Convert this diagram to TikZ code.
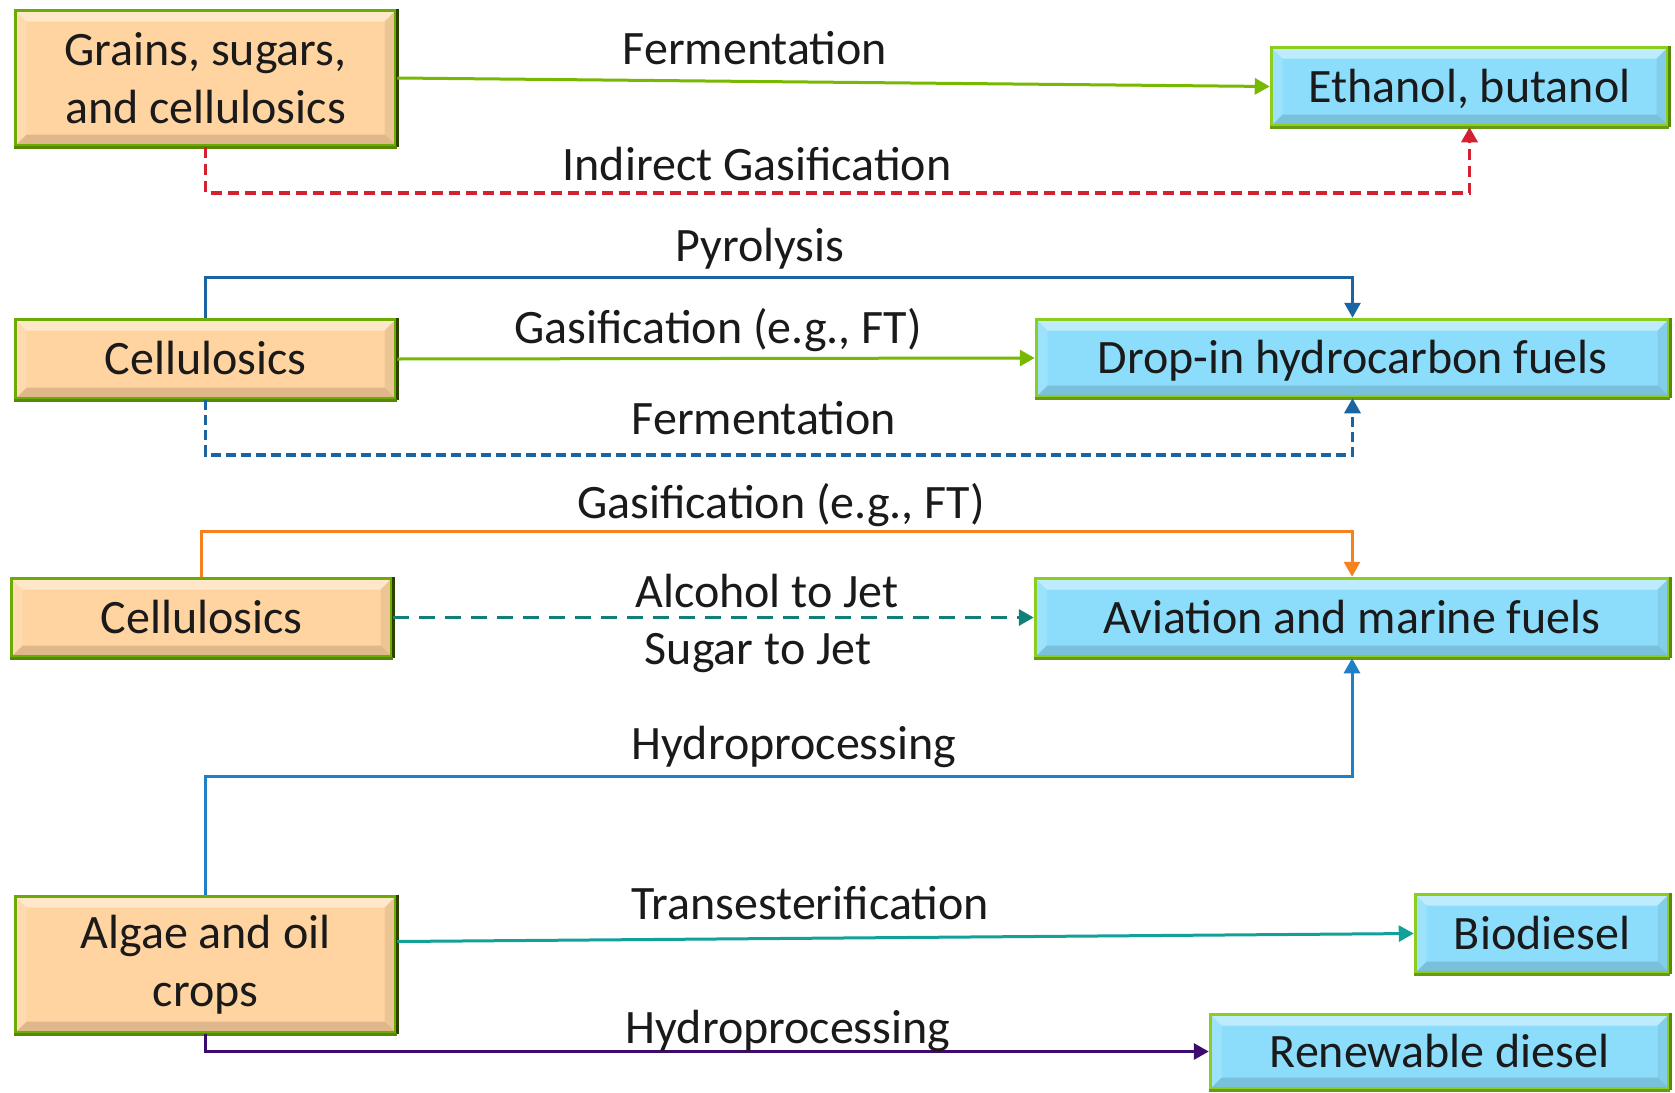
\documentclass[tikz,border=0pt]{standalone}
\usepackage{fontspec}
\setmainfont{Carlito}
\usetikzlibrary{arrows.meta,calc}
\definecolor{peach}{HTML}{FFD4A0}
\definecolor{sky}{HTML}{8CDDFC}
\definecolor{gborder}{HTML}{6CAA04}
\definecolor{gdark}{HTML}{2C4000}
\definecolor{gbright}{HTML}{8CCD1E}
\definecolor{gbdark}{HTML}{578A08}
\definecolor{txt}{HTML}{1A1A1A}
\definecolor{cgreen}{HTML}{77B800}
\definecolor{cred}{HTML}{D42131}
\definecolor{cblue}{HTML}{1B64A2}
\definecolor{corange}{HTML}{F5821F}
\definecolor{cteal}{HTML}{12807A}
\definecolor{chydro}{HTML}{1F80C6}
\definecolor{ctrans}{HTML}{12A198}
\definecolor{cpurple}{HTML}{3D0B6E}
\newcommand{\bigf}{\fontsize{48}{58}\selectfont}
\def\bv{11pt}
\tikzset{
  bevel/.style={path picture={
    \fill[white,opacity=.45] (path picture bounding box.north west) -- (path picture bounding box.north east)
      -- ([xshift=-\bv,yshift=-\bv]path picture bounding box.north east) -- ([xshift=\bv,yshift=-\bv]path picture bounding box.north west) -- cycle;
    \fill[black,opacity=.13] (path picture bounding box.south west) -- (path picture bounding box.south east)
      -- ([xshift=-\bv,yshift=\bv]path picture bounding box.south east) -- ([xshift=\bv,yshift=\bv]path picture bounding box.south west) -- cycle;
    \fill[black,opacity=.07] (path picture bounding box.north east) -- (path picture bounding box.south east)
      -- ([xshift=-\bv,yshift=\bv]path picture bounding box.south east) -- ([xshift=-\bv,yshift=-\bv]path picture bounding box.north east) -- cycle;
    \fill[white,opacity=.15] (path picture bounding box.north west) -- (path picture bounding box.south west)
      -- ([xshift=\bv,yshift=\bv]path picture bounding box.south west) -- ([xshift=\bv,yshift=-\bv]path picture bounding box.north west) -- cycle;
  }},
  srcbox/.style={rectangle, fill=peach, draw=gborder, line width=3.5pt, bevel, text=txt, font=\bigf, align=center, inner sep=0pt},
  tgtbox/.style={rectangle, fill=sky, draw=gbright, line width=3.5pt, bevel, text=txt, font=\bigf, align=center, inner sep=0pt},
  oneline/.style={text height=31pt, text depth=0pt},
  lab/.style={font=\bigf, text=txt, inner sep=0pt, anchor=base},
  conn/.style={line width=3pt, -{Triangle[length=15pt,width=16pt]}},
}
\begin{document}
\begin{tikzpicture}[x=1pt,y=-1pt]
\useasboundingbox (0,0) rectangle (1675,1092);
\fill[white] (0,0) rectangle (1675,1092);

% source boxes
\node[srcbox, minimum width=380pt, minimum height=135pt] (g) at (205.5,78) {Grains, sugars,\\and cellulosics};
\node[srcbox, oneline, minimum width=380pt, minimum height=79pt] (c1) at (205.5,359) {Cellulosics};
\node[srcbox, oneline, minimum width=380pt, minimum height=78pt] (c2) at (201.5,617.5) {Cellulosics};
\node[srcbox, minimum width=380pt, minimum height=136pt] (al) at (205.5,964.5) {Algae and oil\\crops};

% target boxes
\node[tgtbox, oneline, minimum width=396pt, minimum height=78pt] (eth) at (1469.5,86.5) {Ethanol, butanol};
\node[tgtbox, oneline, minimum width=632pt, minimum height=77pt] (drop) at (1352.5,358) {Drop-in hydrocarbon fuels};
\node[tgtbox, oneline, minimum width=633pt, minimum height=78pt] (av) at (1352,617.5) {Aviation and marine fuels};
\node[tgtbox, oneline, minimum width=253pt, minimum height=78pt] (bio) at (1542,933.5) {Biodiesel};
\node[tgtbox, oneline, minimum width=458pt, minimum height=74pt] (ren) at (1439.5,1051.5) {Renewable diesel};

% darker right / bottom edges
\foreach \n in {g,c1,c2,al} {
  \draw[gdark, line width=3.5pt] (\n.north east) -- (\n.south east);
  \draw[gborder!80!black, line width=3.5pt] (\n.south west) -- (\n.south east);
}
\foreach \n in {eth,drop,av,bio,ren} {
  \draw[gbdark, line width=3.5pt] (\n.north east) -- (\n.south east);
  \draw[gbright!75!black, line width=3.5pt] (\n.south west) -- (\n.south east);
}

% helper coordinates
\coordinate (yig) at (0,193);
\coordinate (ypy) at (0,277);
\coordinate (yfe) at (0,455);
\coordinate (yga) at (0,531);
\coordinate (yhy) at (0,776);

% connectors
\draw[conn, cgreen] (g.east) -- (eth.west);
\draw[conn, cred, line width=3.5pt, dash pattern=on 11pt off 6pt] (g.south) -- (g.south |- yig) -| (eth.south);
\draw[conn, cblue] (c1.north) -- (c1.north |- ypy) -| (drop.north);
\draw[conn, cgreen] (c1.east) -- (drop.west);
\draw[conn, cblue, line width=3.2pt, dash pattern=on 10pt off 5pt] (c1.south) -- (c1.south |- yfe) -| (drop.south);
\draw[conn, corange] (c2.north) -- (c2.north |- yga) -| (av.north);
\draw[conn, cteal, line width=3.5pt, dash pattern=on 16pt off 10pt] (c2.east) -- (av.west);
\draw[conn, chydro] (al.north) -- (al.north |- yhy) -| (av.south);
\draw[conn, ctrans] ([yshift=23pt]al.east) -- (bio.west);
\draw[conn, cpurple] (al.south) |- (ren.west);

% labels
\node[lab] (l1) at (755,64) {Fermentation};
\node[lab] (l2) at (757,180) {Indirect Gasification};
\node[lab] (l3) at (760,261) {Pyrolysis};
\node[lab] (l4) at (718,343) {Gasification (e.g., FT)};
\node[lab] (l5) at (764,434) {Fermentation};
\node[lab] (l6) at (781,518) {Gasification (e.g., FT)};
\node[lab] (l7) at (767,607) {Alcohol to Jet};
\node[lab] (l8) at (758,664) {Sugar to Jet};
\node[lab] (l9) at (794,759) {Hydroprocessing};
\node[lab] (l10) at (810,919) {Transesterification};
\node[lab] (l11) at (788,1043) {Hydroprocessing};
\end{tikzpicture}
\end{document}
